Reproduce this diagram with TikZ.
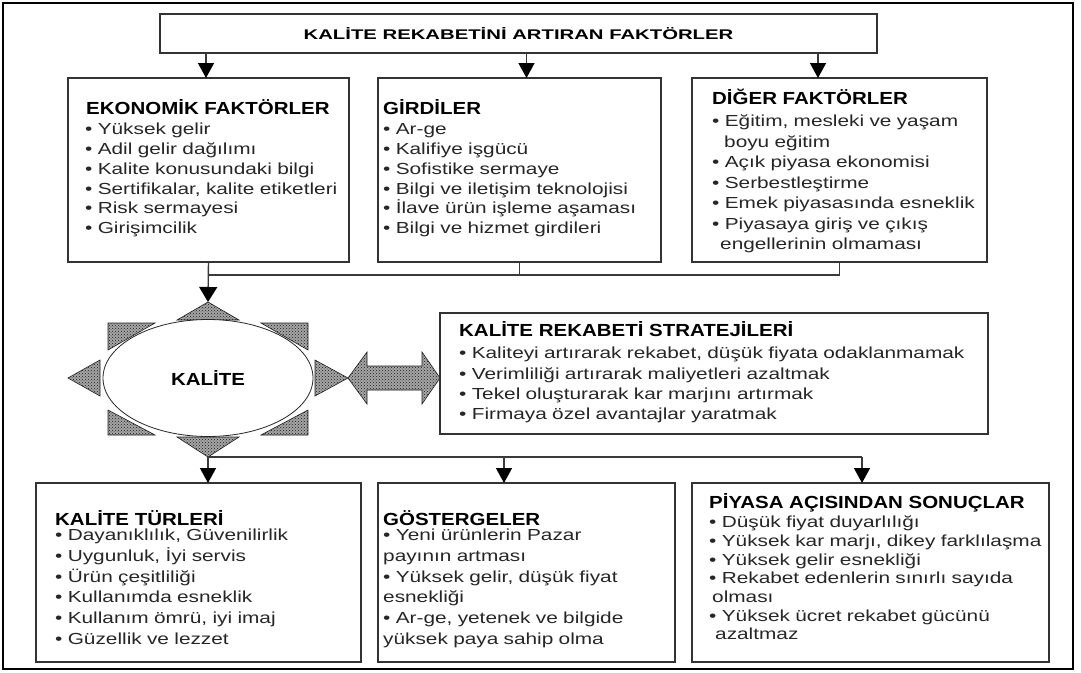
\documentclass[tikz,border=0pt]{standalone}
\usepackage{fontspec}
\setmainfont{Liberation Sans}
\newfontfamily\itemfont{Liberation Sans}[FakeStretch=1.3]
\newfontfamily\headfont{Liberation Sans}[FakeStretch=1.17]
\newfontfamily\titlefont{Liberation Sans}[FakeStretch=1.45]
\usetikzlibrary{shapes.geometric,arrows.meta,patterns,calc}

\definecolor{ink}{HTML}{333333}
\definecolor{wiregray}{HTML}{3A3A3A}
\definecolor{dotfill}{HTML}{A6A6A6}
\definecolor{itemink}{HTML}{262626}

\tikzset{
  box/.style={draw=ink, line width=1.3pt, rectangle, inner sep=0pt, outer sep=0pt, anchor=north west},
  head/.style={anchor=base west, inner sep=0pt, font=\headfont\fontsize{17.5}{20}\selectfont\bfseries},
  itemlist/.style={anchor=north west, inner sep=0pt, text width=#1, align=left, text=itemink},
  wire/.style={draw=wiregray, line width=1.4pt},
  arr/.style={wire, -{Triangle[width=16pt,length=15pt,color=black]}},
  starpiece/.style={fill=dotfill, draw=gray!25!black, line width=0.6pt,
    postaction={pattern=crosshatch dots, pattern color=gray!20!black}},
}

\begin{document}
\begin{tikzpicture}[x=1pt,y=-1pt]
\useasboundingbox (0,0) rectangle (1081,672);
\fill[white] (0,0) rectangle (1081,672);

% outer frame
\draw[line width=2.6pt] (3,3) rectangle (1073,669);

% title
\node[box, minimum width=717pt, minimum height=39pt] (title) at (160,14) {};
\node[inner sep=0pt, font=\titlefont\fontsize{14}{16}\selectfont\bfseries] (titletxt) at (title.center) {KALİTE REKABETİNİ ARTIRAN FAKTÖRLER};

% first row of boxes
\node[box, minimum width=281pt, minimum height=184pt] (eko) at (68,78) {};
\node[box, minimum width=283pt, minimum height=184pt] (gir) at (378,78) {};
\node[box, minimum width=295pt, minimum height=184pt] (dig) at (692,78) {};

\node[head] (ekoh) at (86,114.5) {EKONOMİK FAKTÖRLER};
\node[itemlist=260pt, font=\itemfont\fontsize{16}{19.8}\selectfont] (ekol) at (85,120.6)
  {\strut• Yüksek gelir\\
   • Adil gelir dağılımı\\
   • Kalite konusundaki bilgi\\
   • Sertifikalar, kalite etiketleri\\
   • Risk sermayesi\\
   • Girişimcilik};

\node[head] (girh) at (383,114.5) {GİRDİLER};
\node[itemlist=275pt, font=\itemfont\fontsize{16}{19.8}\selectfont] (girl) at (383,120.6)
  {\strut• Ar-ge\\
   • Kalifiye işgücü\\
   • Sofistike sermaye\\
   • Bilgi ve iletişim teknolojisi\\
   • İlave ürün işleme aşaması\\
   • Bilgi ve hizmet girdileri};

\node[head] (digh) at (712,104.5) {DİĞER FAKTÖRLER};
\node[itemlist=270pt, font=\itemfont\fontsize{16}{20.5}\selectfont] (digl) at (712,112.2)
  {\strut• Eğitim, mesleki  ve yaşam\\
   \hspace*{12pt}boyu eğitim\\
   • Açık piyasa ekonomisi\\
   • Serbestleştirme\\
   • Emek piyasasında esneklik\\
   • Piyasaya giriş ve çıkış\\
   \hspace*{8pt}engellerinin olmaması};

% arrows from the title
\draw[arr] ([xshift=-2.5pt]eko.north |- title.south) -- ([xshift=-2.5pt]eko.north);
\draw[arr] ([xshift=7pt]gir.north |- title.south) -- ([xshift=7pt]gir.north);
\draw[arr] ([xshift=-21.5pt]dig.north |- title.south) -- ([xshift=-21.5pt]dig.north);

% quality star
\coordinate (kc) at (208,378);
\begin{scope}[shift={(kc)}]
  \path[starpiece] (0,-76) -- (-31,-58) -- (31,-58) -- cycle;
  \path[starpiece] (0,79) -- (-31,59) -- (31,59) -- cycle;
  \path[starpiece] (-140,0) -- (-108,-18) -- (-108,18) -- cycle;
  \path[starpiece] (140,0) -- (107,-18) -- (107,18) -- cycle;
  \path[starpiece] (-100,-55) -- (-53,-55) -- (-100,-28) -- cycle;
  \path[starpiece] (100,-55) -- (53,-55) -- (100,-28) -- cycle;
  \path[starpiece] (-100,57) -- (-53,57) -- (-100,32) -- cycle;
  \path[starpiece] (100,57) -- (53,57) -- (100,32) -- cycle;
  % double arrow towards the strategies
  \path[starpiece] (140,0) -- (159,-26) -- (159,-12) -- (214,-12) -- (214,-26)
     -- (232,0) -- (214,26) -- (214,12) -- (159,12) -- (159,26) -- cycle;
\end{scope}
\node[ellipse, draw=gray!30!black, line width=0.8pt, fill=white, inner sep=0pt,
      minimum width=210pt, minimum height=117pt,
      font=\headfont\fontsize{17.5}{20}\selectfont\bfseries] (kal) at (kc) {KALİTE};
\coordinate (startop) at ($(kc)+(0,-76)$);
\coordinate (starbot) at ($(kc)+(0,79)$);

% strategies box
\node[box, minimum width=548pt, minimum height=121pt] (str) at (440,313) {};
\node[head] (strh) at (459,336.5) {KALİTE REKABETİ STRATEJİLERİ};
\node[itemlist=525pt, font=\itemfont\fontsize{16}{20.3}\selectfont] (strl) at (459,344.3)
  {\strut• Kaliteyi artırarak rekabet, düşük fiyata odaklanmamak\\
   • Verimliliği artırarak maliyetleri azaltmak\\
   • Tekel oluşturarak kar marjını artırmak\\
   • Firmaya özel avantajlar yaratmak};

% connectors from the first row into the star
\draw[wire] (dig.south) -- ++(0,13) coordinate (busR) -- (busR -| eko.south);
\draw[wire] (gir.south) -- (gir.south |- busR);
\draw[arr, -{Triangle[width=18pt,length=15pt,color=black]}] (eko.south) -- (startop);

% second row of boxes
\node[box, minimum width=325pt, minimum height=179pt] (kt) at (36,483) {};
\node[box, minimum width=297pt, minimum height=179pt] (gos) at (378,483) {};
\node[box, minimum width=357pt, minimum height=179pt] (piy) at (692,483) {};

\node[head] (kth) at (55,525.5) {KALİTE TÜRLERİ};
\node[itemlist=300pt, font=\itemfont\fontsize{16}{20.7}\selectfont] (ktl) at (55,526)
  {\strut• Dayanıklılık, Güvenilirlik\\
   • Uygunluk,  İyi servis\\
   • Ürün çeşitliliği\\
   • Kullanımda esneklik\\
   • Kullanım ömrü, iyi imaj\\
   • Güzellik ve lezzet};

\node[head] (gosh) at (383,525.5) {GÖSTERGELER};
\node[itemlist=290pt, font=\itemfont\fontsize{16}{20.7}\selectfont] (gosl) at (383,526)
  {\strut• Yeni ürünlerin Pazar\\
   payının artması\\
   • Yüksek gelir, düşük fiyat\\
   esnekliği\\
   • Ar-ge, yetenek ve bilgide\\
   yüksek paya sahip olma};

\node[head] (piyh) at (709,508.5) {PİYASA AÇISINDAN SONUÇLAR};
\node[itemlist=340pt, font=\itemfont\fontsize{16}{18.7}\selectfont] (piyl) at (709,514.4)
  {\strut• Düşük fiyat duyarlılığı\\
   • Yüksek kar marjı, dikey farklılaşma\\
   • Yüksek gelir esnekliği\\
   • Rekabet edenlerin sınırlı sayıda\\
   \hspace*{3pt}olması\\
   • Yüksek ücret rekabet gücünü\\
   \hspace*{6pt}azaltmaz};

% connectors from the star to the second row
\coordinate (gosA) at ([xshift=-22.5pt]gos.north);
\coordinate (piyA) at ([xshift=-8.5pt]piy.north);
\draw[wire] (starbot) -- (starbot -| piyA);
\draw[arr] (starbot) -- (starbot |- kt.north);
\draw[arr] (starbot -| gosA) -- (gosA);
\draw[arr] (starbot -| piyA) -- (piyA);
\end{tikzpicture}
\end{document}
